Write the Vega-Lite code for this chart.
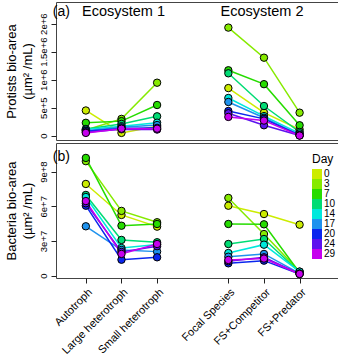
{
  "$schema": "https://vega.github.io/schema/vega-lite/v6.json",
  "padding": {"left": 4, "top": 1, "right": 2, "bottom": 0},
  "spacing": 0,
  "config": {
    "font": "Liberation Sans",
    "view": {"stroke": "#444", "strokeWidth": 1},
    "axis": {"domain": false, "grid": false, "tickColor": "#222", "tickSize": 5, "labelColor": "black", "labelFontSize": 11, "titleColor": "black", "titleFontWeight": "normal", "titleFontSize": 13, "labelOverlap": false}
  },
  "data": {"values": [
    {"comm": "Autotroph", "eco": 1, "day": 0, "protists": 450000, "bacteria": 79300000},
    {"comm": "Large heterotroph", "eco": 1, "day": 0, "protists": 50000, "bacteria": 52500000},
    {"comm": "Small heterotroph", "eco": 1, "day": 0, "protists": 170000, "bacteria": 42400000},
    {"comm": "Autotroph", "eco": 1, "day": 3, "protists": 100000, "bacteria": 99000000},
    {"comm": "Large heterotroph", "eco": 1, "day": 3, "protists": 300000, "bacteria": 56000000},
    {"comm": "Small heterotroph", "eco": 1, "day": 3, "protists": 946000, "bacteria": 46200000},
    {"comm": "Autotroph", "eco": 1, "day": 7, "protists": 230000, "bacteria": 101800000},
    {"comm": "Large heterotroph", "eco": 1, "day": 7, "protists": 260000, "bacteria": 43200000},
    {"comm": "Small heterotroph", "eco": 1, "day": 7, "protists": 548000, "bacteria": 44700000},
    {"comm": "Autotroph", "eco": 1, "day": 10, "protists": 120000, "bacteria": 69800000},
    {"comm": "Large heterotroph", "eco": 1, "day": 10, "protists": 210000, "bacteria": 30900000},
    {"comm": "Small heterotroph", "eco": 1, "day": 10, "protists": 346000, "bacteria": 28900000},
    {"comm": "Autotroph", "eco": 1, "day": 14, "protists": 110000, "bacteria": 68000000},
    {"comm": "Large heterotroph", "eco": 1, "day": 14, "protists": 170000, "bacteria": 23900000},
    {"comm": "Small heterotroph", "eco": 1, "day": 14, "protists": 232000, "bacteria": 27000000},
    {"comm": "Autotroph", "eco": 1, "day": 17, "protists": 90000, "bacteria": 42700000},
    {"comm": "Large heterotroph", "eco": 1, "day": 17, "protists": 150000, "bacteria": 22200000},
    {"comm": "Small heterotroph", "eco": 1, "day": 17, "protists": 190000, "bacteria": 20800000},
    {"comm": "Autotroph", "eco": 1, "day": 20, "protists": 80000, "bacteria": 60500000},
    {"comm": "Large heterotroph", "eco": 1, "day": 20, "protists": 130000, "bacteria": 13800000},
    {"comm": "Small heterotroph", "eco": 1, "day": 20, "protists": 140000, "bacteria": 15900000},
    {"comm": "Autotroph", "eco": 1, "day": 24, "protists": 60000, "bacteria": 62600000},
    {"comm": "Large heterotroph", "eco": 1, "day": 24, "protists": 115000, "bacteria": 20500000},
    {"comm": "Small heterotroph", "eco": 1, "day": 24, "protists": 110000, "bacteria": 25500000},
    {"comm": "Autotroph", "eco": 1, "day": 29, "protists": 50000, "bacteria": 64500000},
    {"comm": "Large heterotroph", "eco": 1, "day": 29, "protists": 125000, "bacteria": 18800000},
    {"comm": "Small heterotroph", "eco": 1, "day": 29, "protists": 125000, "bacteria": 27400000},
    {"comm": "Focal Species", "eco": 2, "day": 0, "protists": 850000, "bacteria": 60500000},
    {"comm": "FS+Competitor", "eco": 2, "day": 0, "protists": 411000, "bacteria": 53300000},
    {"comm": "FS+Predator", "eco": 2, "day": 0, "protists": 110000, "bacteria": 44100000},
    {"comm": "Focal Species", "eco": 2, "day": 3, "protists": 1930000, "bacteria": 67200000},
    {"comm": "FS+Competitor", "eco": 2, "day": 3, "protists": 1393000, "bacteria": 36000000},
    {"comm": "FS+Predator", "eco": 2, "day": 3, "protists": 411000, "bacteria": 3500000},
    {"comm": "Focal Species", "eco": 2, "day": 7, "protists": 1168000, "bacteria": 44700000},
    {"comm": "FS+Competitor", "eco": 2, "day": 7, "protists": 920000, "bacteria": 44400000},
    {"comm": "FS+Predator", "eco": 2, "day": 7, "protists": 186000, "bacteria": 2500000},
    {"comm": "Focal Species", "eco": 2, "day": 10, "protists": 1114000, "bacteria": 27400000},
    {"comm": "FS+Competitor", "eco": 2, "day": 10, "protists": 530000, "bacteria": 31700000},
    {"comm": "FS+Predator", "eco": 2, "day": 10, "protists": 66000, "bacteria": 3000000},
    {"comm": "Focal Species", "eco": 2, "day": 14, "protists": 673000, "bacteria": 19600000},
    {"comm": "FS+Competitor", "eco": 2, "day": 14, "protists": 350000, "bacteria": 26800000},
    {"comm": "FS+Predator", "eco": 2, "day": 14, "protists": 40000, "bacteria": 3500000},
    {"comm": "Focal Species", "eco": 2, "day": 17, "protists": 602000, "bacteria": 16400000},
    {"comm": "FS+Competitor", "eco": 2, "day": 17, "protists": 320000, "bacteria": 18800000},
    {"comm": "FS+Predator", "eco": 2, "day": 17, "protists": 15000, "bacteria": 2000000},
    {"comm": "Focal Species", "eco": 2, "day": 20, "protists": 441000, "bacteria": 10700000},
    {"comm": "FS+Competitor", "eco": 2, "day": 20, "protists": 300000, "bacteria": 13000000},
    {"comm": "FS+Predator", "eco": 2, "day": 20, "protists": 8000, "bacteria": 1500000},
    {"comm": "Focal Species", "eco": 2, "day": 24, "protists": 400000, "bacteria": 12500000},
    {"comm": "FS+Competitor", "eco": 2, "day": 24, "protists": 186000, "bacteria": 15900000},
    {"comm": "FS+Predator", "eco": 2, "day": 24, "protists": 5000, "bacteria": 1500000},
    {"comm": "Focal Species", "eco": 2, "day": 29, "protists": 335000, "bacteria": 13600000},
    {"comm": "FS+Competitor", "eco": 2, "day": 29, "protists": 270000, "bacteria": 14800000},
    {"comm": "FS+Predator", "eco": 2, "day": 29, "protists": 2000, "bacteria": 1500000}
  ]},
  "resolve": {"legend": {"color": "independent"}},
  "vconcat": [
    {
      "width": 285,
      "height": 138,
      "encoding": {
        "x": {"field": "comm", "type": "nominal", "scale": {"type": "point", "domain": ["Autotroph", "Large heterotroph", "Small heterotroph", " ", "Focal Species", "FS+Competitor", "FS+Predator"], "padding": 1.626, "align": 0.419}, "axis": null},
        "y": {"field": "protists", "type": "quantitative", "scale": {"domain": [-77000, 2387000], "nice": false, "zero": false},
          "axis": {"values": [0, 500000, 1000000, 1500000, 2000000], "labelAngle": -90, "labelFontSize": 9.5, "labelPadding": 3, "titlePadding": 4, "titleLineHeight": 16,
            "labelExpr": "datum.value == 0 ? '0' : datum.value == 500000 ? '5e+5' : datum.value == 1000000 ? '1e+6' : datum.value == 1500000 ? '1.5e+6' : '2e+6'",
            "title": ["Protists bio-area", "(µm² /mL)"]}},
        "color": {"field": "day", "type": "ordinal", "scale": {"domain": [0, 3, 7, 10, 14, 17, 20, 24, 29], "range": ["#ccec00", "#86ea00", "#26dc00", "#00dc74", "#00e8dc", "#1e92ee", "#0a26ee", "#5c12ee", "#c600ee"]}, "legend": null}
      },
      "layer": [
        {"mark": {"type": "line", "strokeWidth": 1.5}, "encoding": {"detail": {"field": "eco"}, "order": {"value": null}}},
        {"mark": {"type": "point", "filled": true, "opacity": 1, "stroke": "black", "strokeWidth": 1, "size": 55}},
        {"transform": [{"filter": "datum.day == 0 && datum.comm == 'Autotroph'"}], "mark": {"type": "text", "align": "left", "baseline": "middle", "fontSize": 14, "dx": -33}, "encoding": {"x": {"datum": "Autotroph", "type": "nominal"}, "y": {"datum": 2210000, "type": "quantitative"}, "text": {"value": "(a)"}, "color": {"value": "black"}}},
        {"transform": [{"filter": "datum.day == 0 && datum.comm == 'Autotroph'"}], "mark": {"type": "text", "align": "center", "baseline": "middle", "fontSize": 14.5, "dx": 2}, "encoding": {"x": {"datum": "Large heterotroph", "type": "nominal"}, "y": {"datum": 2210000, "type": "quantitative"}, "text": {"value": "Ecosystem 1"}, "color": {"value": "black"}}},
        {"transform": [{"filter": "datum.day == 0 && datum.comm == 'Autotroph'"}], "mark": {"type": "text", "align": "center", "baseline": "middle", "fontSize": 14.5, "dx": -2}, "encoding": {"x": {"datum": "FS+Competitor", "type": "nominal"}, "y": {"datum": 2210000, "type": "quantitative"}, "text": {"value": "Ecosystem 2"}, "color": {"value": "black"}}}
      ]
    },
    {
      "width": 285,
      "height": 135,
      "encoding": {
        "x": {"field": "comm", "type": "nominal", "scale": {"type": "point", "domain": ["Autotroph", "Large heterotroph", "Small heterotroph", " ", "Focal Species", "FS+Competitor", "FS+Predator"], "padding": 1.626, "align": 0.419},
          "axis": {"values": ["Autotroph", "Large heterotroph", "Small heterotroph", "Focal Species", "FS+Competitor", "FS+Predator"], "labelAngle": -45, "labelPadding": 3, "title": "Community", "titleFontSize": 14, "titlePadding": 2}},
        "y": {"field": "bacteria", "type": "quantitative", "scale": {"domain": [-2000000, 114700000], "nice": false, "zero": false},
          "axis": {"values": [0, 30000000, 60000000, 90000000], "labelAngle": -90, "labelFontSize": 9.5, "labelPadding": 3, "titlePadding": 4, "titleLineHeight": 16,
            "labelExpr": "datum.value == 0 ? '0' : datum.value == 30000000 ? '3e+7' : datum.value == 60000000 ? '6e+7' : '9e+8'",
            "title": ["Bacteria bio-area", "(µm² /mL)"]}},
        "color": {"field": "day", "type": "ordinal", "scale": {"domain": [0, 3, 7, 10, 14, 17, 20, 24, 29], "range": ["#ccec00", "#86ea00", "#26dc00", "#00dc74", "#00e8dc", "#1e92ee", "#0a26ee", "#5c12ee", "#c600ee"]},
          "legend": {"title": "Day", "orient": "none", "legendX": 256, "legendY": 11, "symbolType": "square", "symbolSize": 100, "symbolStrokeWidth": 0, "symbolOpacity": 1, "rowPadding": 0, "labelFontSize": 10, "labelOffset": 2, "titleFontSize": 12, "titleFontWeight": "normal", "titleColor": "black", "labelColor": "black", "titlePadding": 3}}
      },
      "layer": [
        {"mark": {"type": "line", "strokeWidth": 1.5}, "encoding": {"detail": {"field": "eco"}, "order": {"value": null}}},
        {"mark": {"type": "point", "filled": true, "opacity": 1, "stroke": "black", "strokeWidth": 1, "size": 55}},
        {"transform": [{"filter": "datum.day == 0 && datum.comm == 'Autotroph'"}], "mark": {"type": "text", "align": "left", "baseline": "middle", "fontSize": 14, "dx": -33}, "encoding": {"x": {"datum": "Autotroph", "type": "nominal"}, "y": {"datum": 102600000, "type": "quantitative"}, "text": {"value": "(b)"}, "color": {"value": "black"}}}
      ]
    }
  ]
}
